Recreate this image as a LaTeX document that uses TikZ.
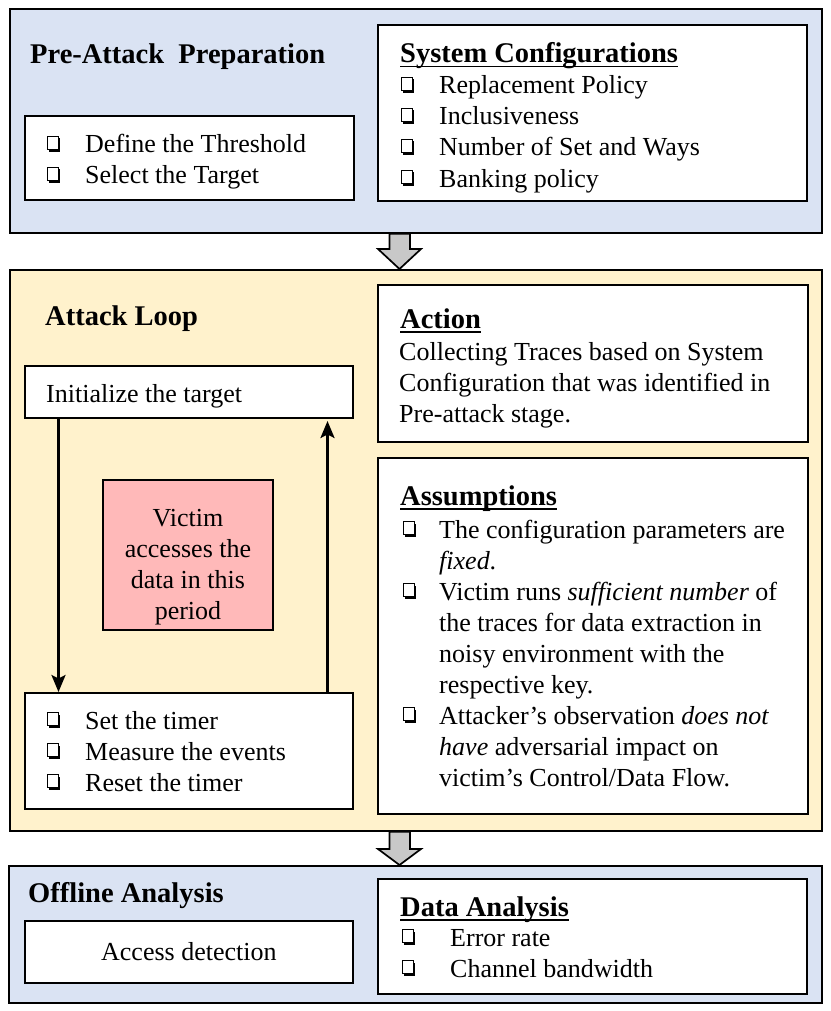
\documentclass[tikz,border=0pt]{standalone}
\usepackage{fontspec}
\setmainfont{Liberation Serif}
\usetikzlibrary{arrows.meta,calc}
\definecolor{blueF}{HTML}{DAE3F3}
\definecolor{yellowF}{HTML}{FFF2CC}
\definecolor{pinkF}{HTML}{FFB9B9}
\definecolor{grayF}{HTML}{C8C8C8}
\newcommand\hul[1]{\setbox0\hbox{#1}\rlap{\rule[-4.5pt]{\wd0}{1.6pt}}\box0}
\newcommand\cbx[2]{%
  \fill (#1+2.4,#2-14.5) rectangle (#1+13.4,#2-1.2);
  \filldraw[fill=white,line width=1.1pt] (#1+0.2,#2-16.8) rectangle (#1+11.4,#2-3.6);}
\begin{document}
\begin{tikzpicture}[x=1pt,y=-1pt,
  outerbox/.style={draw,line width=1.7pt,anchor=north west,inner sep=0},
  innerbox/.style={draw,line width=1.7pt,fill=white,anchor=north west,inner sep=0},
  tx/.style={font=\fontsize{26}{31}\selectfont,inner sep=0,anchor=base west},
  hd/.style={font=\fontsize{28.5}{34}\selectfont\bfseries,inner sep=0,anchor=base west},
  loopline/.style={line width=2.6pt,-{Stealth[length=17pt,width=14pt,inset=3.5pt]}},
  blockarrow/.style={draw,line width=1.7pt,fill=grayF,line join=miter}]
\useasboundingbox[fill=white] (0,0) rectangle (830,1011);

% ---------- Pre-attack ----------
\node[outerbox,fill=blueF,minimum width=812pt,minimum height=224pt] (pre) at (9,8) {};
\node[hd] (pretitle) at (30,64) {Pre-Attack\ \ Preparation};
\node[innerbox,minimum width=329pt,minimum height=84pt] (prelist) at (24,115) {};
\cbx{47}{153}
\node[tx] (p1) at (85,153) {Define the Threshold};
\cbx{47}{184}
\node[tx] (p2) at (85,184) {Select the Target};
\node[innerbox,minimum width=429pt,minimum height=176pt] (sys) at (377,24) {};
\node[hd] (systitle) at (400,63) {\hul{System Configurations}};
\cbx{401}{94}
\node[tx] (s1) at (439,94) {Replacement Policy};
\cbx{401}{125}
\node[tx] (s2) at (439,125) {Inclusiveness};
\cbx{401}{156}
\node[tx] (s3) at (439,156) {Number of Set and Ways};
\cbx{401}{187}
\node[tx] (s4) at (439,187) {Banking policy};

% ---------- Attack loop ----------
\node[outerbox,fill=yellowF,minimum width=812pt,minimum height=561pt] (loop) at (9,269) {};
\node[hd] (looptitle) at (45,325) {Attack Loop};
\node[innerbox,minimum width=328pt,minimum height=52pt] (init) at (24,365) {};
\node[tx] (inittxt) at (46,402) {Initialize the target};
\node[draw,line width=1.4pt,fill=pinkF,minimum width=170pt,minimum height=150pt,inner sep=0] (victim) at (188,555) {};
\node[align=center,font=\fontsize{26}{31}\selectfont,inner sep=0] (victimtxt) at (188,567)
      {Victim\\accesses the\\data in this\\period};
\node[innerbox,minimum width=328pt,minimum height=116pt] (timer) at (24,692) {};
\cbx{47}{729}
\node[tx] (t1) at (85,729) {Set the timer};
\cbx{47}{760}
\node[tx] (t2) at (85,760) {Measure the events};
\cbx{47}{791}
\node[tx] (t3) at (85,791) {Reset the timer};
\coordinate (downx) at (58.5,0);
\coordinate (upx) at (327.5,0);
\coordinate (uptop) at (327.5,421);
\draw[loopline] (downx |- init.south) -- (downx |- timer.north);
\draw[loopline] (upx |- timer.north) -- (uptop);

\node[innerbox,minimum width=430pt,minimum height=157pt] (action) at (377,284) {};
\node[hd] (acttitle) at (400,328) {\hul{Action}};
\node[tx] (a1) at (399,360) {Collecting Traces based on System};
\node[tx] (a2) at (399,391) {Configuration that was identified in};
\node[tx] (a3) at (399,422) {Pre-attack stage.};

\node[innerbox,minimum width=430pt,minimum height=356pt] (assum) at (377,457) {};
\node[hd] (asstitle) at (400,505) {\hul{Assumptions}};
\cbx{403}{538}
\node[tx] (b1) at (439,538) {The configuration parameters are};
\node[tx] (b2) at (439,569) {\textit{fixed}.};
\cbx{403}{600}
\node[tx] (b3) at (439,600) {Victim runs \textit{sufficient number} of};
\node[tx] (b4) at (439,631) {the traces for data extraction in};
\node[tx] (b5) at (439,662) {noisy environment with the};
\node[tx] (b6) at (439,693) {respective key.};
\cbx{403}{724}
\node[tx] (b7) at (439,724) {Attacker’s observation \textit{does not}};
\node[tx] (b8) at (439,755) {\textit{have} adversarial impact on};
\node[tx] (b9) at (439,786) {victim’s Control/Data Flow.};

% ---------- Offline ----------
\node[outerbox,fill=blueF,minimum width=813pt,minimum height=137pt] (off) at (8,865) {};
\node[hd] (offtitle) at (28,902) {Offline Analysis};
\node[innerbox,minimum width=328pt,minimum height=62pt,font=\fontsize{26}{31}\selectfont] (access) at (24,920) {Access detection};
\node[innerbox,minimum width=429pt,minimum height=115pt] (data) at (377,878) {};
\node[hd] (datatitle) at (400,916) {\hul{Data Analysis}};
\cbx{402}{946}
\node[tx] (d1) at (450,946) {Error rate};
\cbx{402}{977}
\node[tx] (d2) at (450,977) {Channel bandwidth};

% ---------- block arrows ----------
\coordinate (bl) at (389.5,0);
\coordinate (bm) at (399.5,0);
\coordinate (br) at (410,0);
\draw[blockarrow] (bl |- pre.south) -- (389.5,249) -- (378,249) -- (bm |- loop.north)
  -- (421,249) -- (410,249) -- (br |- pre.south) -- cycle;
\draw[blockarrow] (bl |- loop.south) -- (389.5,849) -- (378,849) -- (bm |- off.north)
  -- (421,849) -- (410,849) -- (br |- loop.south) -- cycle;
\end{tikzpicture}
\end{document}
